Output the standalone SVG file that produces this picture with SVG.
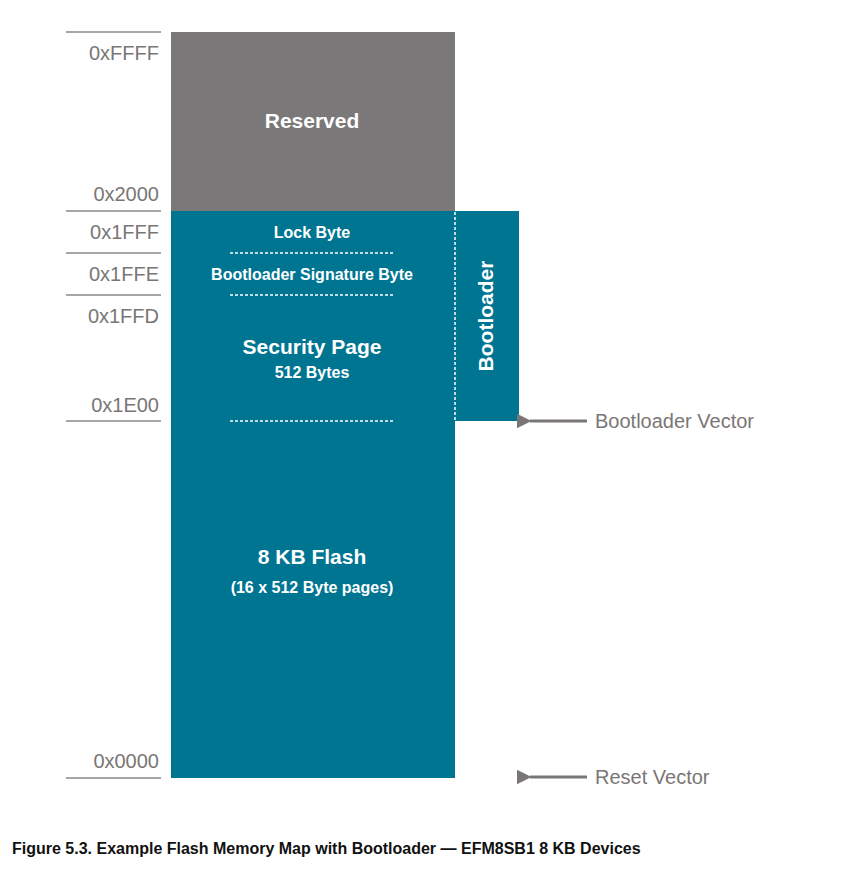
<svg xmlns="http://www.w3.org/2000/svg" width="851" height="872" viewBox="0 0 851 872">
<style>
.a{font-family:"Liberation Sans",Arial,sans-serif;font-size:20px;fill:#7a7676;text-anchor:end}
.w{font-family:"Liberation Sans",Arial,sans-serif;font-weight:bold;fill:#fff;text-anchor:middle}
.r{font-family:"Liberation Sans",Arial,sans-serif;font-size:20px;fill:#7a7676}
.ln{stroke:#8a8888;stroke-width:1.5}
.d{stroke:#fff;stroke-width:1.5;stroke-dasharray:3,2}
</style>
<defs><marker id="ah" viewBox="0 0 10 10" refX="1" refY="5" markerWidth="5" markerHeight="5" orient="auto"><path d="M10,0L0,5L10,10z" fill="#7a7676"/></marker></defs>
<rect width="851" height="872" fill="#fff"/>
<g id="reserved"><rect x="171" y="32" width="284" height="179" fill="#7a7878"/><text class="w" x="312" y="128" font-size="21">Reserved</text></g>
<g id="flash"><rect x="171" y="211" width="284" height="567" fill="#007592"/>
<text class="w" x="312" y="238" font-size="16">Lock Byte</text>
<text class="w" x="312" y="280" font-size="16">Bootloader Signature Byte</text>
<text class="w" x="312" y="354" font-size="21">Security Page</text>
<text class="w" x="312" y="378" font-size="16">512 Bytes</text>
<text class="w" x="312" y="564" font-size="21">8 KB Flash</text>
<text class="w" x="312" y="593" font-size="16">(16 x 512 Byte pages)</text>
<line class="d" x1="230" y1="253" x2="395" y2="253"/>
<line class="d" x1="230" y1="295" x2="395" y2="295"/>
<line class="d" x1="230" y1="421" x2="395" y2="421"/></g>
<g id="bootloader"><rect x="455" y="211" width="64" height="210" fill="#007592"/>
<line class="d" x1="455" y1="212" x2="455" y2="420"/>
<text class="w" x="493" y="316" font-size="21" transform="rotate(-90 493 316)" dy="0">Bootloader</text></g>
<g id="addresses">
<line class="ln" x1="66" y1="32" x2="161" y2="32"/>
<line class="ln" x1="66" y1="211" x2="161" y2="211"/>
<line class="ln" x1="66" y1="253" x2="161" y2="253"/>
<line class="ln" x1="66" y1="295" x2="161" y2="295"/>
<line class="ln" x1="66" y1="421" x2="161" y2="421"/>
<line class="ln" x1="66" y1="778" x2="161" y2="778"/>
<text class="a" x="159" y="60">0xFFFF</text>
<text class="a" x="159" y="201">0x2000</text>
<text class="a" x="159" y="239">0x1FFF</text>
<text class="a" x="159" y="281">0x1FFE</text>
<text class="a" x="159" y="323">0x1FFD</text>
<text class="a" x="159" y="412">0x1E00</text>
<text class="a" x="159" y="768">0x0000</text></g>
<g id="connectors">
<line x1="587" y1="421" x2="530" y2="421" stroke="#7a7676" stroke-width="3" marker-end="url(#ah)"/>
<line x1="587" y1="777" x2="530" y2="777" stroke="#7a7676" stroke-width="3" marker-end="url(#ah)"/></g>
<text class="r" x="595" y="428">Bootloader Vector</text>
<text class="r" x="595" y="784">Reset Vector</text>
<text x="12" y="854" font-family="Liberation Sans,Arial,sans-serif" font-weight="bold" font-size="16" fill="#111">Figure 5.3.  Example Flash Memory Map with Bootloader — EFM8SB1 8 KB Devices</text>
</svg>
